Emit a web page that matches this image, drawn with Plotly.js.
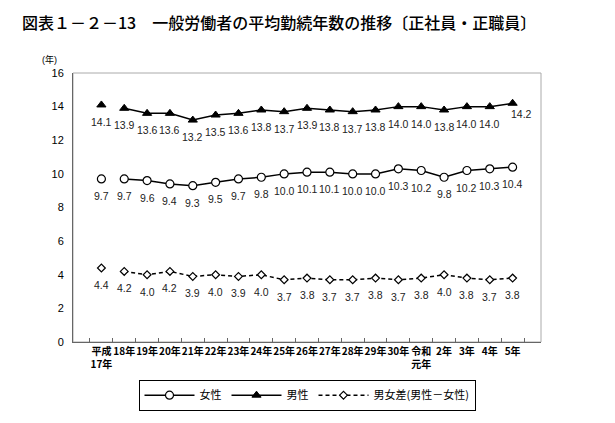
<!DOCTYPE html>
<html><head><meta charset="utf-8">
<script src="https://cdn.plot.ly/plotly-3.0.1.min.js"></script>
<style>body{margin:0;background:#fff}#c{width:615px;height:423px}</style>
</head><body><div id="c"></div>
<script>
const categories = ['平成<br>17年','18年','19年','20年','21年','22年','23年','24年','25年','26年','27年','28年','29年','30年','令和<br>元年','2年','3年','4年','5年'];
const female = [9.7,9.7,9.6,9.4,9.3,9.5,9.7,9.8,10.0,10.1,10.1,10.0,10.0,10.3,10.2,9.8,10.2,10.3,10.4];
const male = [14.1,13.9,13.6,13.6,13.2,13.5,13.6,13.8,13.7,13.9,13.8,13.7,13.8,14.0,14.0,13.8,14.0,14.0,14.2];
const diff = [4.4,4.2,4.0,4.2,3.9,4.0,3.9,4.0,3.7,3.8,3.7,3.7,3.8,3.7,3.8,4.0,3.8,3.7,3.8];

const FONT = '"Liberation Sans", "Noto Sans CJK JP", sans-serif';
const JP = '"Noto Sans CJK JP", sans-serif';
const fmt = v => v.toFixed(1);

function series(name, vals, marker, dash) {
  const main = {
    type:'scatter', mode:'lines+markers', name:name,
    x: categories.slice(1), y: vals.slice(1),
    line:{color:'#000', width:1.5, dash:dash},
    marker: marker, cliponaxis:false, hoverinfo:'skip'
  };
  const first = {
    type:'scatter', mode:'markers', name:name, showlegend:false,
    x: categories.slice(0,1), y: vals.slice(0,1),
    marker: marker, cliponaxis:false, hoverinfo:'skip'
  };
  return [main, first];
}

const data = [
  ...series('女性', female, {symbol:'circle', size:8, color:'#fff', line:{color:'#000', width:1.2}}, 'solid'),
  ...series('男性', male, {symbol:'triangle-up', size:8, color:'#000', line:{color:'#000', width:1}}, 'solid'),
  ...series('男女差(男性－女性)', diff, {symbol:'diamond', size:6, color:'#fff', line:{color:'#000', width:1.2}}, '4px,3px')
];

const labels = [];
[female, male, diff].forEach((vals, s) => {
  vals.forEach((v, i) => {
    const last = (s === 1 && i === vals.length - 1);
    labels.push({x: categories[i], y: v, xref:'x', yref:'y', text: fmt(v), showarrow:false,
      yshift: last ? -11 : -17, xshift: last ? 9 : 0,
      font:{size:10.5, color:'#222', family:FONT}, xanchor:'center', yanchor:'middle'});
  });
});

const layout = {
  width:615, height:423,
  margin:{l:73, r:74, t:73, b:77},
  paper_bgcolor:'#fff', plot_bgcolor:'#fff',
  font:{family:FONT, size:11, color:'#000'},
  title:{text:'図表１－２－13　一般労働者の平均勤続年数の推移〔正社員・正職員〕',
    font:{family:JP, size:16, color:'#000', weight:500},
    x:22/615, xanchor:'left', xref:'container', y:1-23/423, yanchor:'middle', yref:'container'},
  xaxis:{type:'category', categoryorder:'array', categoryarray:categories, tickangle:0,
    showline:true, linecolor:'#666', linewidth:1,
    ticks:'inside', tickson:'boundaries', ticklen:4, tickcolor:'#666',
    showgrid:false, zeroline:false, tickfont:{size:10, family:JP, weight:'bold'}, fixedrange:true},
  yaxis:{range:[0,16], dtick:2, showline:true, linecolor:'#666', linewidth:1,
    ticks:'', showgrid:false, zeroline:false, tickfont:{size:11, family:FONT}, ticklabelstandoff:6},
  shapes:[{type:'rect', xref:'paper', yref:'paper', x0:0, x1:1, y0:0, y1:1, line:{color:'#aaa', width:1}, layer:'below'}],
  annotations:[{text:'(年)', xref:'paper', yref:'paper', x:-0.05, y:1.05, showarrow:false, font:{size:9, family:FONT}, xanchor:'center', yanchor:'middle'}, ...labels],
  legend:{orientation:'h', x:0.5, xanchor:'center', y:-0.14, yanchor:'top', bordercolor:'#000', borderwidth:1,
    font:{size:11, family:JP}, itemwidth:50, traceorder:'normal'},
  showlegend:true
};
Plotly.newPlot('c', data, layout, {staticPlot:true});
</script></body></html>
